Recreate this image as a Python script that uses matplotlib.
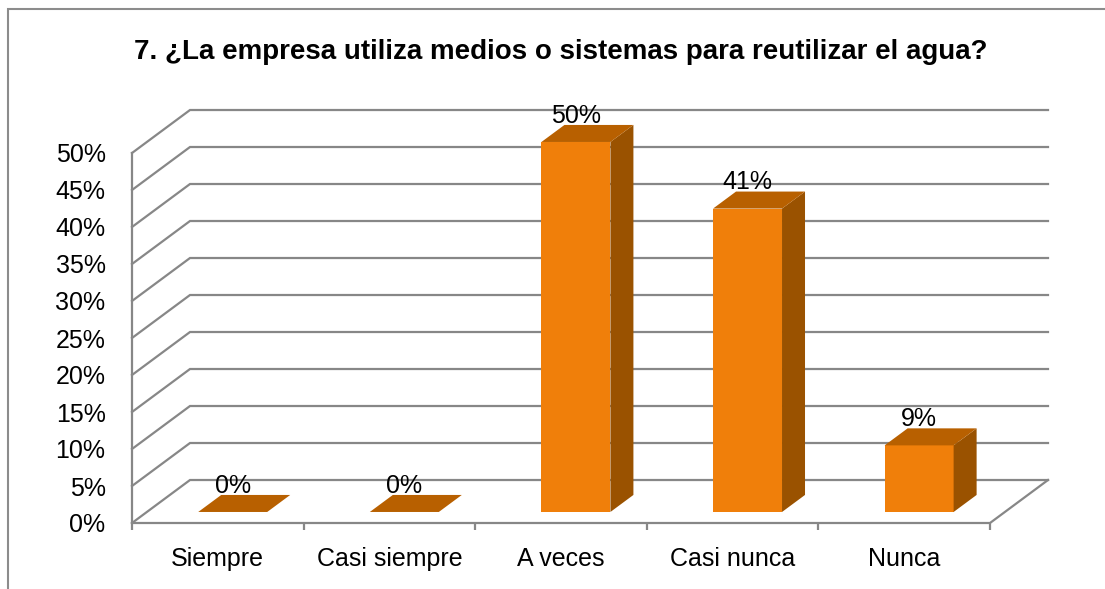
import matplotlib
matplotlib.use("Agg")
import matplotlib.pyplot as plt
from matplotlib.patches import Polygon, Rectangle

# data
categories = ["Siempre", "Casi siempre", "A veces", "Casi nunca", "Nunca"]
values = [0, 0, 50, 41, 9]
yticks = [0, 5, 10, 15, 20, 25, 30, 35, 40, 45, 50]
title = "7. ¿La empresa utiliza medios o sistemas para reutilizar el agua?"

plt.rcParams["font.family"] = ["Liberation Sans", "DejaVu Sans"]

front_c = "#F07F0A"
side_c = "#9A5200"
top_c = "#B86000"
grid_c = "#878787"

W, H = 1105, 589
fig = plt.figure(figsize=(W / 100, H / 100), dpi=100)
ax = fig.add_axes([132 / W, 66 / H, 858 / W, 370 / H])
ax.set_xlim(0, 5)
ax.set_ylim(0, 50)
for s in ax.spines.values():
    s.set_visible(False)

# 3d offsets in data units
wdx, wdy = 0.338, 5.81      # depth of walls / floor
ox, oy = 0.087, 1.49        # bar front face offset into depth
bw = 0.402                  # bar width
bdx, bdy = 0.134, 2.30      # bar depth

# left wall + back wall gridlines
for y in yticks:
    ax.plot([0, wdx, 5 + wdx], [y, y + wdy, y + wdy], color=grid_c, lw=1.6,
            clip_on=False, zorder=1, solid_joinstyle="miter")
ax.plot([0, 0], [0, 50], color=grid_c, lw=1.6, clip_on=False, zorder=1)
# floor front & right edge
ax.plot([0, 5, 5 + wdx], [0, 0, wdy], color=grid_c, lw=1.6, clip_on=False, zorder=1)

centers = [i + 0.5 for i in range(len(categories))]
lefts = [c + ox - bw / 2 for c in centers]
bars = ax.bar(lefts, values, width=bw, bottom=oy, align="edge", color=front_c,
              edgecolor="none", zorder=3)
for b in bars:
    b.set_clip_on(False)
for x0, v in zip(lefts, values):
    top = oy + v
    side = [(x0 + bw, oy), (x0 + bw + bdx, oy + bdy), (x0 + bw + bdx, top + bdy), (x0 + bw, top)]
    roof = [(x0, top), (x0 + bw, top), (x0 + bw + bdx, top + bdy), (x0 + bdx, top + bdy)]
    ax.add_patch(Polygon(side, closed=True, facecolor=side_c, edgecolor="none",
                         zorder=3, clip_on=False))
    ax.add_patch(Polygon(roof, closed=True, facecolor=top_c, edgecolor="none",
                         zorder=3, clip_on=False))
    ax.text(x0 + bw / 2, top + bdy + 0.3, f"{v}%", ha="center", va="baseline",
            fontsize=18, color="black", zorder=4, clip_on=False)

ax.set_yticks(yticks)
ax.set_yticklabels([f"{t}%" for t in yticks], fontsize=18)
ax.tick_params(axis="y", length=0, pad=19)
ax.set_xticks(centers)
ax.set_xticklabels(categories, fontsize=18)
ax.tick_params(axis="x", which="major", length=0, pad=17)
ax.set_xticks(range(6), minor=True)
ax.tick_params(axis="x", which="minor", length=5, width=1.6, color=grid_c, direction="out")

fig.text(561 / W, 1 - 52 / H, title, ha="center", va="center", fontsize=20,
         fontweight="bold")

fig.patches.append(Rectangle((8 / W, -0.1), 1.1, 1.1 - 9 / H, transform=fig.transFigure,
                             fill=False, edgecolor="#8C8C8C", lw=1.5))

fig.savefig("out.png", dpi=100)
